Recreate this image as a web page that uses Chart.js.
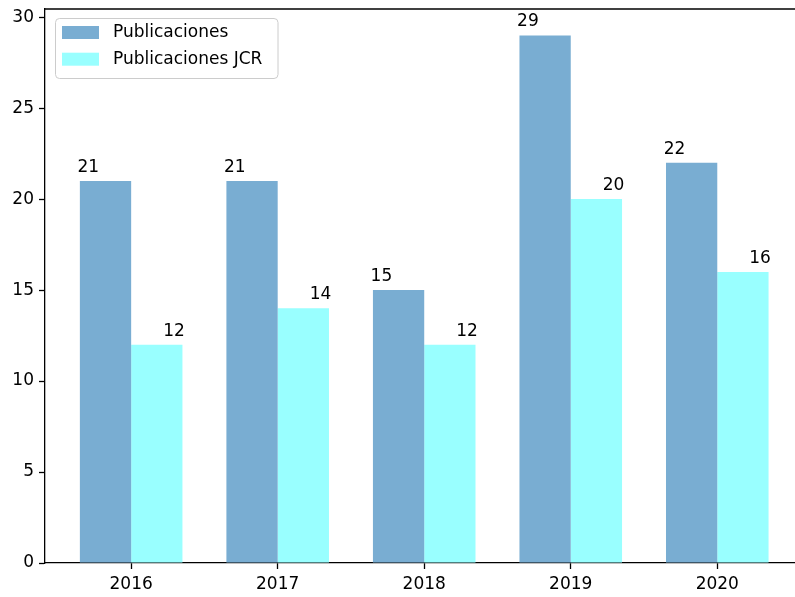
<!DOCTYPE html>
<html>
<head>
<meta charset="utf-8">
<script src="https://cdn.jsdelivr.net/npm/chart.js@4.4.0/dist/chart.umd.min.js"></script>
<style>
  html, body { margin: 0; padding: 0; background: #fff; overflow: hidden; }
  #wrap { width: 795px; height: 597px; overflow: hidden; }
  canvas { display: block; }
</style>
</head>
<body>
<div id="wrap"><canvas id="chart" width="830" height="597" style="width:830px;height:597px"></canvas></div>
<script>
// Data
const years = [2016, 2017, 2018, 2019, 2020];
const publicaciones = [21, 21, 15, 29, 22];
const publicacionesJCR = [12, 14, 12, 20, 16];
const yTicks = [0, 5, 10, 15, 20, 25, 30];

const FONT = '"DejaVu Sans", sans-serif';
const blue = '#79add2';
const cyan = '#99ffff';

// value labels above each bar, pushed outwards like the original
const barLabels = {
  id: 'barLabels',
  afterDatasetsDraw(chart) {
    const ctx = chart.ctx;
    ctx.save();
    ctx.font = '17px ' + FONT;
    ctx.fillStyle = '#000';
    ctx.textAlign = 'center';
    ctx.textBaseline = 'alphabetic';
    chart.data.datasets.forEach((ds, di) => {
      const meta = chart.getDatasetMeta(di);
      const sign = di === 0 ? -1 : 1;
      meta.data.forEach((bar, i) => {
        const x = bar.x + sign * 0.335 * bar.width;
        ctx.fillText(String(ds.data[i]), x, bar.y - 9);
      });
    });
    ctx.restore();
  }
};

// top spine and the boxed legend in the upper left
const frameAndLegend = {
  id: 'frameAndLegend',
  afterDraw(chart) {
    const ctx = chart.ctx;
    const a = chart.chartArea;
    ctx.save();
    ctx.strokeStyle = '#000';
    ctx.lineWidth = 1.3;
    ctx.beginPath();
    ctx.moveTo(a.left, a.top);
    ctx.lineTo(a.right, a.top);
    ctx.stroke();

    // legend box
    const bx = 55.5, by = 18.5, bw = 222.5, bh = 60, r = 4;
    ctx.beginPath();
    ctx.moveTo(bx + r, by);
    ctx.arcTo(bx + bw, by, bx + bw, by + bh, r);
    ctx.arcTo(bx + bw, by + bh, bx, by + bh, r);
    ctx.arcTo(bx, by + bh, bx, by, r);
    ctx.arcTo(bx, by, bx + bw, by, r);
    ctx.closePath();
    ctx.fillStyle = 'rgba(255,255,255,0.8)';
    ctx.fill();
    ctx.strokeStyle = '#cccccc';
    ctx.lineWidth = 1;
    ctx.stroke();

    ctx.font = '17px ' + FONT;
    ctx.textAlign = 'left';
    ctx.textBaseline = 'middle';
    chart.data.datasets.forEach((ds, i) => {
      const rowY = 26 + i * 26.7;
      ctx.fillStyle = ds.backgroundColor;
      ctx.fillRect(62, rowY, 37, 13);
      ctx.fillStyle = '#000';
      ctx.fillText(ds.label, 113, rowY + 7);
    });
    ctx.restore();
  }
};

new Chart(document.getElementById('chart'), {
  type: 'bar',
  data: {
    labels: years,
    datasets: [
      { label: 'Publicaciones', data: publicaciones, backgroundColor: blue, borderWidth: 0 },
      { label: 'Publicaciones JCR', data: publicacionesJCR, backgroundColor: cyan, borderWidth: 0 }
    ]
  },
  options: {
    responsive: false,
    animation: false,
    events: [],
    layout: { padding: { top: 9, right: 27, left: 0, bottom: 0 } },
    datasets: { bar: { categoryPercentage: 0.7, barPercentage: 1.0 } },
    plugins: { legend: { display: false }, tooltip: { enabled: false } },
    scales: {
      x: {
        type: 'linear',
        offset: false,
        min: years[0] - 0.588,
        max: years[years.length - 1] + 0.585,
        afterBuildTicks: s => { s.ticks = years.map(v => ({ value: v })); },
        afterFit: s => { s.height = 34; s.paddingLeft = 0; s.paddingRight = 0; },
        grid: { offset: false, drawOnChartArea: false, drawTicks: true, tickLength: 6, tickColor: '#000', tickWidth: 1.3 },
        border: { display: true, color: '#000', width: 1.3 },
        ticks: { color: '#000', padding: 5, font: { family: FONT, size: 17 }, callback: v => String(v), maxRotation: 0 }
      },
      y: {
        min: 0,
        max: 30.45,
        afterBuildTicks: s => { s.ticks = yTicks.map(v => ({ value: v })); },
        afterFit: s => { s.width = 45; s.paddingTop = 0; s.paddingBottom = 0; },
        grid: { drawOnChartArea: false, drawTicks: true, tickLength: 6, tickColor: '#000', tickWidth: 1.3 },
        border: { display: true, color: '#000', width: 1.3 },
        ticks: { color: '#000', padding: 5, font: { family: FONT, size: 17 } }
      }
    }
  },
  plugins: [barLabels, frameAndLegend]
});
</script>
</body>
</html>
